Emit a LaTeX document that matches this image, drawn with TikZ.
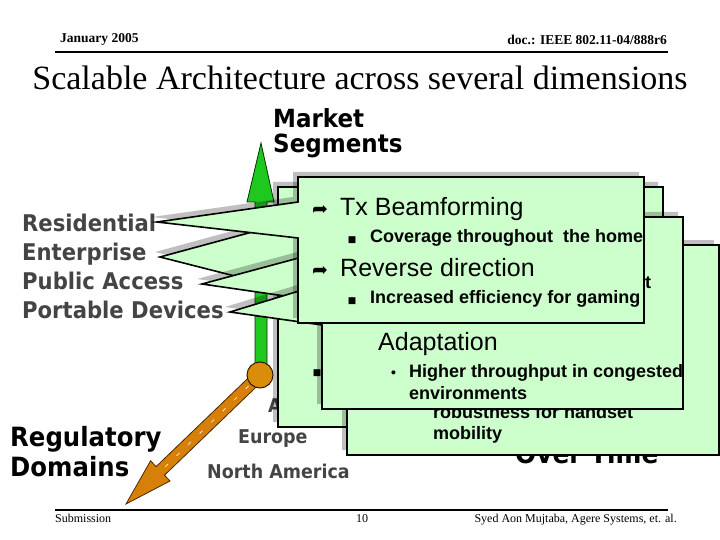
\documentclass[tikz,border=0pt]{standalone}
\usepackage{fontspec}
\setmainfont{Liberation Serif}
\newfontfamily\arialfont{Liberation Sans}
\newfontfamily\tahomafont[FakeStretch=0.92]{DejaVu Sans}
\newfontfamily\symbfont{DejaVu Sans}
\usetikzlibrary{positioning,calc}

\definecolor{boxgreen}{RGB}{204,255,204}
\definecolor{arrowgreen}{RGB}{30,200,30}
\definecolor{arroworange}{RGB}{214,128,10}
\definecolor{labelgray}{RGB}{68,68,68}

\newcommand{\fsz}[1]{\fontsize{#1}{#1}\selectfont}

% callout box: left, top, right, bottom, tip coordinate, pointer top, pointer bottom
\newcommand{\drawcallout}[7]{%
  \fill[boxshadow] (#1,#2) -- (#3,#2) -- (#3,#4) -- (#1,#4) -- (#1,#7) -- (#5) -- (#1,#6) -- cycle;
  \filldraw[callout] (#1,#2) -- (#3,#2) -- (#3,#4) -- (#1,#4) -- (#1,#7) -- (#5) -- (#1,#6) -- cycle;
}

\tikzset{
  boxshadow/.style={fill=black,fill opacity=0.25,transform canvas={xshift=-5pt,yshift=5pt}},
  callout/.style={fill=boxgreen,draw=black,line width=1.6pt,line join=miter},
  hdr/.style={inner sep=0pt,font=\bfseries\fsz{13.5}},
  foot/.style={inner sep=0pt,anchor=base,font=\fsz{12}},
  seglabel/.style={anchor=base west,inner sep=0pt,text=labelgray,font=\tahomafont\bfseries\fsz{23}},
  axislabel/.style={anchor=base west,inner sep=0pt,align=left,font=\tahomafont\bfseries},
  boxhead/.style={anchor=base west,inner sep=0pt,font=\arialfont\fsz{25}},
  boxitem/.style={anchor=base west,inner sep=0pt,font=\arialfont\bfseries\fsz{18}},
  icon/.style={anchor=base,inner sep=0pt,font=\symbfont\fsz{19}},
  sq/.style={anchor=base,inner sep=0pt,font=\symbfont\fsz{9}},
}

\begin{document}
\begin{tikzpicture}[x=1pt,y=-1pt]
\useasboundingbox (0,0) rectangle (720,540);

% header and footer
\node[hdr,anchor=base west] (date) at (60,43) {January 2005};
\node[hdr,anchor=base east] (doc) at (667,45) {doc.: IEEE 802.11-04/888r6};
\draw[line width=1.5pt] (55,52) -- (668,52);
\node[anchor=base,inner sep=0pt,font=\fsz{34}] (title) at (360,90) {Scalable Architecture across several dimensions};
\draw[line width=1.5pt] (55,510) -- (668,510);
\node[foot,anchor=base west] (sub) at (55,522) {Submission};
\node[foot] (page) at (362,522) {10};
\node[foot,anchor=base east] (author) at (677,522) {Syed Aon Mujtaba, Agere Systems, et. al.};

% axis labels
\node[axislabel,font=\tahomafont\bfseries\fontsize{25}{25}\selectfont] (market) at (273,153) {Market\\Segments};
\foreach \lbl/\yy [count=\i] in {Residential/232,Enterprise/260,Public Access/289,Portable Devices/318}
  \node[seglabel] (seg\i) at (22,\yy) {\lbl};
\node[axislabel,font=\tahomafont\bfseries\fontsize{26.5}{30}\selectfont] (regdom) at (10,476) {Regulatory\\Domains};
\node[seglabel,font=\tahomafont\bfseries\fsz{19}] (europe) at (238,443) {Europe};
\node[seglabel,font=\tahomafont\bfseries\fsz{19}] (namerica) at (207,478) {North America};
\node[seglabel,font=\tahomafont\bfseries\fsz{19}] (asia) at (268,412) {A};
\node[axislabel,font=\tahomafont\bfseries\fsz{27}] (overtime) at (515,463) {Over Time};

% axes
\coordinate (origin) at (260,375);
\filldraw[fill=arrowgreen,draw=black!80!green,line width=0.8pt]
  (255,365) -- (255,202) -- (247,202) -- (261,143) -- (274,202) -- (267,202) -- (267,365) -- cycle;
\filldraw[fill=arroworange,draw=black!70!orange,line width=0.8pt]
  (255.8,370.7) -- (156.1,466.6) -- (150.6,460.8) -- (126,504) -- (170,481) -- (164.5,475.2) -- (264.2,379.3) -- cycle;
\draw[white,line width=0.6pt,dash pattern=on 4pt off 12pt] (origin) -- (165,467);
\filldraw[fill=arroworange!90!yellow,draw=black!80!orange,line width=1pt] (origin) circle (13);

% tips of the callouts
\coordinate (tipres) at (157,222);
\coordinate (tipent) at (160,257);
\coordinate (tippub) at (202,284);
\coordinate (tipport) at (230,312);

% enterprise box
\drawcallout{278}{187}{663}{427}{tipent}{225}{287}
\node[sq] (entsq) at (317,375) {■};

% public access box
\drawcallout{347}{245}{719}{455}{tippub}{245}{305}
\node[boxitem] (rob1) at (433,418) {robustness for handset};
\node[boxitem] (rob2) at (433,439) {mobility};

% portable devices box
\drawcallout{322}{217}{683}{409}{tipport}{284}{325}
\node[boxitem] (thr) at (645,288) {t};
\node[boxhead] (adapt) at (378,350) {Adaptation};
\node[boxitem,font=\arialfont\bfseries\fsz{14}] (dot) at (391,377) {•};
\node[boxitem] (cong1) at (409,377) {Higher throughput in congested};
\node[boxitem] (cong2) at (409,399) {environments};

% residential box
\drawcallout{298}{177}{644}{323}{tipres}{202}{238}
\node[icon] (ic1) at (320,215) {➦};
\node[boxhead] (txbf) at (340,215) {Tx Beamforming};
\node[sq] (sq1) at (352,243) {■};
\node[boxitem] (cov) at (370,243) {Coverage throughout\ \ the home};
\node[icon] (ic2) at (320,276) {➦};
\node[boxhead] (revd) at (340,276) {Reverse direction};
\node[sq] (sq2) at (352,303) {■};
\node[boxitem] (game) at (370,303) {Increased efficiency for gaming};
\end{tikzpicture}
\end{document}
